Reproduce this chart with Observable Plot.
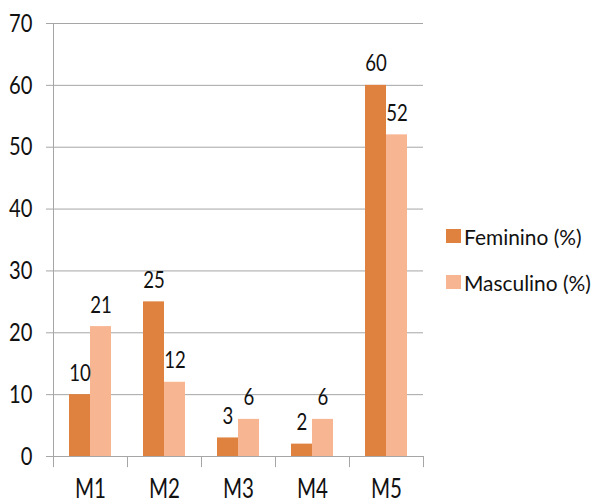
<!DOCTYPE html>
<html>
<head>
<meta charset="utf-8">
<script src="https://cdn.jsdelivr.net/npm/d3@7"></script>
<script src="https://cdn.jsdelivr.net/npm/@observablehq/plot@0.6"></script>
<style>
  body { margin: 0; background: #fff; }
  #chart { position: relative; width: 594px; height: 503px; font-family: Lato, "Open Sans", sans-serif; color: #111; }
  #legend { position: absolute; left: 446px; top: 213px; }
  .item { display: flex; align-items: center; height: 46px; font-size: 22px; white-space: nowrap; }
  .sw { width: 15px; height: 14px; margin-right: 3px; flex: none; }
  .lab { display: inline-block; transform: scaleX(0.95); transform-origin: left center; }
</style>
</head>
<body>
<div id="chart"><div id="legend"></div></div>
<script>
// Share of each group (%) by category
const categories = ["M1", "M2", "M3", "M4", "M5"];
const feminino = [10, 25, 3, 2, 60];
const masculino = [21, 12, 6, 6, 52];
const seriesNames = ["Feminino (%)", "Masculino (%)"];
const yTicks = [0, 10, 20, 30, 40, 50, 60, 70];
const colors = ["#DF823F", "#F8B592"];

const rows = categories.map((c, i) => ({cat: c, fem: feminino[i], masc: masculino[i]}));
const font = 'Lato, "Open Sans", sans-serif';
const gray = "#a6a6a6";
const half = 37; // half of a category band

const chart = Plot.plot({
  width: 594,
  height: 503,
  marginLeft: 53,
  marginRight: 171,
  marginTop: 23,
  marginBottom: 47,
  style: {fontFamily: font, fontSize: "25px", color: "#111", background: "white", overflow: "visible"},
  x: {domain: categories, padding: 0, axis: null},
  y: {domain: [0, 70], axis: null},
  marks: [
    Plot.gridY(yTicks.slice(1), {stroke: gray, strokeOpacity: 1}),
    Plot.axisY(yTicks, {tickSize: 7, tickPadding: 14, stroke: gray, strokeOpacity: 1, fontSize: 25.5}),
    Plot.ruleY([0], {stroke: gray}),
    // y axis line and the category boundary ticks below the baseline
    Plot.ruleX([categories[0]], {dx: -half, y1: -1.8, y2: 70, stroke: gray}),
    Plot.ruleX(categories.slice(1), {dx: -half, y1: -1.8, y2: 0, stroke: gray}),
    Plot.ruleX([categories[categories.length - 1]], {dx: half, y1: -1.8, y2: 0, stroke: gray}),
    Plot.barY(rows, {x: "cat", y: "fem", fill: colors[0], insetLeft: 16, insetRight: 37}),
    Plot.barY(rows, {x: "cat", y: "masc", fill: colors[1], insetLeft: 37, insetRight: 16}),
    Plot.text(rows, {x: "cat", y: "fem", text: d => String(d.fem), dx: -10.5, dy: -14, lineAnchor: "bottom", fontSize: 23.5, fill: "#111"}),
    Plot.text(rows, {x: "cat", y: "masc", text: d => String(d.masc), dx: 10.5, dy: -14, lineAnchor: "bottom", fontSize: 23.5, fill: "#111"}),
    Plot.axisX(categories, {tickSize: 0, tickPadding: 23, fontSize: 26, label: null})
  ]
});

const holder = document.getElementById("chart");
holder.insertBefore(chart, holder.firstChild);

// narrow the glyphs of every label
chart.querySelectorAll("text").forEach(t => {
  const parts = t.querySelectorAll("tspan");
  (parts.length ? Array.from(parts) : [t]).forEach(el => {
    const w = el.getComputedTextLength();
    if (w > 0) {
      el.setAttribute("textLength", (w * 0.79).toFixed(2));
      el.setAttribute("lengthAdjust", "spacingAndGlyphs");
    }
  });
});

const legend = document.getElementById("legend");
seriesNames.forEach((name, i) => {
  const item = document.createElement("div");
  item.className = "item";
  const sw = document.createElement("span");
  sw.className = "sw";
  sw.style.background = colors[i];
  const lab = document.createElement("span");
  lab.className = "lab";
  lab.textContent = name;
  item.appendChild(sw);
  item.appendChild(lab);
  legend.appendChild(item);
});
</script>
</body>
</html>
